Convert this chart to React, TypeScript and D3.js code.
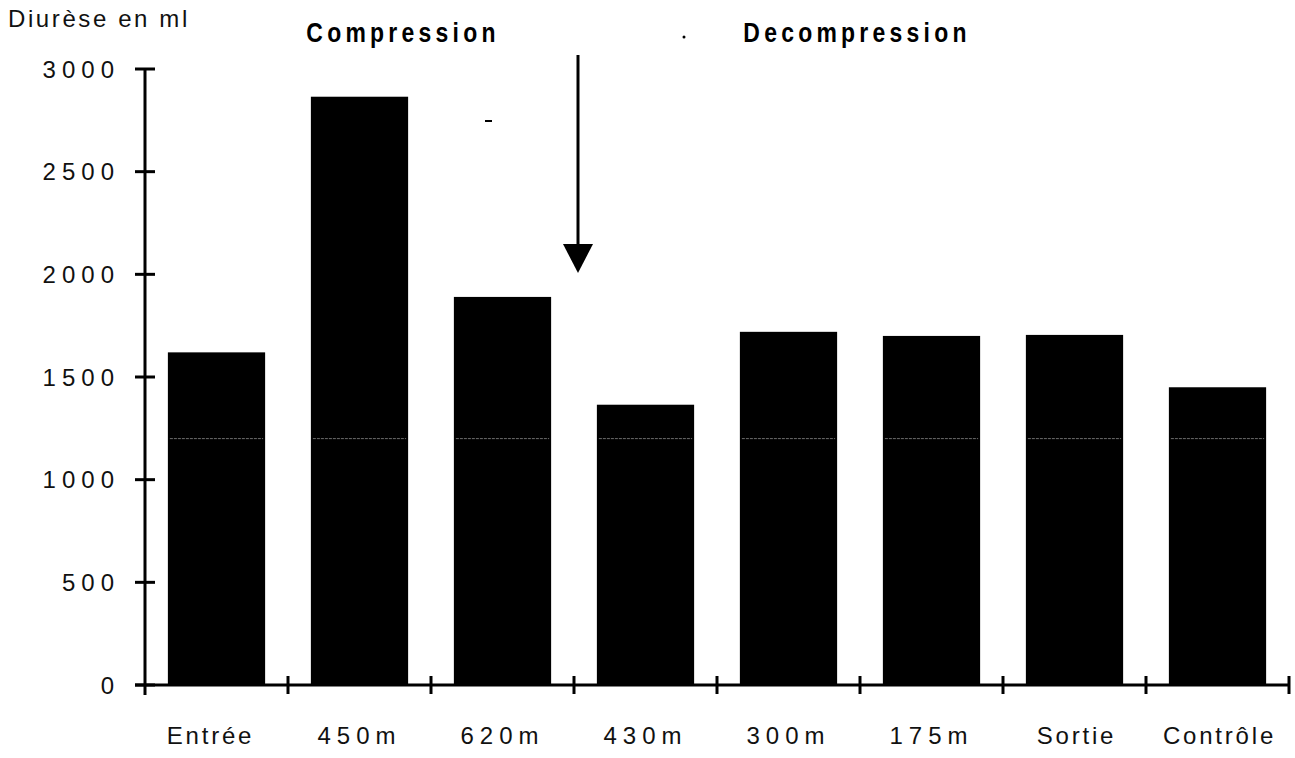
import React from "react";
import * as d3 from "d3";

const categories = ["Entrée", "450m", "620m", "430m", "300m", "175m", "Sortie", "Contrôle"];
const diurese = [1620, 2865, 1890, 1365, 1720, 1700, 1705, 1450];
const yTicks = [0, 500, 1000, 1500, 2000, 2500, 3000];
const yTitle = "Diurèse en ml";
const phaseLabels = ["Compression", "Decompression"];

const W = 1295;
const H = 758;

export default function App() {
  const x = d3.scaleBand<string>().domain(categories).range([145, 1289]).paddingInner(0.32).paddingOuter(0.16);
  const xEdges = d3.scaleBand<string>().domain(categories).range([145, 1289]).padding(0);
  const y = d3.scaleLinear().domain([0, 3000]).range([685, 69]);
  const bw = x.bandwidth();
  const arrowX = xEdges("430m")!;
  const sans = "'Liberation Sans', Arial, Helvetica, sans-serif";

  return (
    <svg width={W} height={H} viewBox={`0 0 ${W} ${H}`} style={{ position: "absolute", left: 0, top: 0, background: "#fff" }}>
      <rect width={W} height={H} fill="#fff" />
      {/* bars */}
      {categories.map((c, i) => (
        <g key={c}>
          <rect x={x(c)} y={y(diurese[i])} width={bw} height={y(0) - y(diurese[i])} fill="#000" />
          <line x1={x(c)! + 2} x2={x(c)! + bw - 2} y1={y(1200)} y2={y(1200)} stroke="#6a6a6a" strokeWidth={1} strokeDasharray="3 1" />
        </g>
      ))}
      {/* y axis */}
      <line x1={145} x2={145} y1={y(3000)} y2={y(0) + 10} stroke="#000" strokeWidth={3} />
      {yTicks.map((t) => (
        <g key={t}>
          <line x1={135} x2={155} y1={y(t)} y2={y(t)} stroke="#000" strokeWidth={3} />
          <text x={120} y={y(t) + 8.5} textAnchor="end" fontFamily={sans} fontSize={24} letterSpacing={6} fill="#111">
            {t}
          </text>
        </g>
      ))}
      {/* x axis */}
      <line x1={135} x2={1290} y1={y(0)} y2={y(0)} stroke="#000" strokeWidth={3} />
      {categories.map((c) => (
        <line key={"t" + c} x1={xEdges(c)! + xEdges.bandwidth()} x2={xEdges(c)! + xEdges.bandwidth()} y1={y(0) - 9} y2={y(0) + 9} stroke="#000" strokeWidth={3} />
      ))}
      {categories.map((c, i) => (
        <text key={"l" + c} x={x(c)! + bw / 2 + (i === 0 ? -6 : c.endsWith("m") ? 0 : 2)} y={744} textAnchor="middle" fontFamily={sans} fontSize={24} letterSpacing={c.endsWith("m") ? 6 : 2.8} fill="#111">
          {c}
        </text>
      ))}
      {/* titles */}
      <text x={8} y={27} fontFamily={sans} fontSize={24} letterSpacing={2.6} fill="#111">
        {yTitle}
      </text>
      <g transform="translate(403,42) scale(0.85,1)">
        <text x={0} y={0} textAnchor="middle" fontFamily={sans} fontWeight="bold" fontSize={27} letterSpacing={5} fill="#000">
          {phaseLabels[0]}
        </text>
      </g>
      <g transform="translate(857,42) scale(0.85,1)">
        <text x={0} y={0} textAnchor="middle" fontFamily={sans} fontWeight="bold" fontSize={27} letterSpacing={5} fill="#000">
          {phaseLabels[1]}
        </text>
      </g>
      <circle cx={684} cy={37} r={1.5} fill="#000" />
      <line x1={485} x2={492} y1={121} y2={121} stroke="#000" strokeWidth={2} />
      {/* arrow */}
      <line x1={arrowX + 4} x2={arrowX + 4} y1={55} y2={246} stroke="#000" strokeWidth={3} />
      <path d={`M${arrowX - 11},${244} L${arrowX + 19},${244} L${arrowX + 4},${273} Z`} fill="#000" />
    </svg>
  );
}
